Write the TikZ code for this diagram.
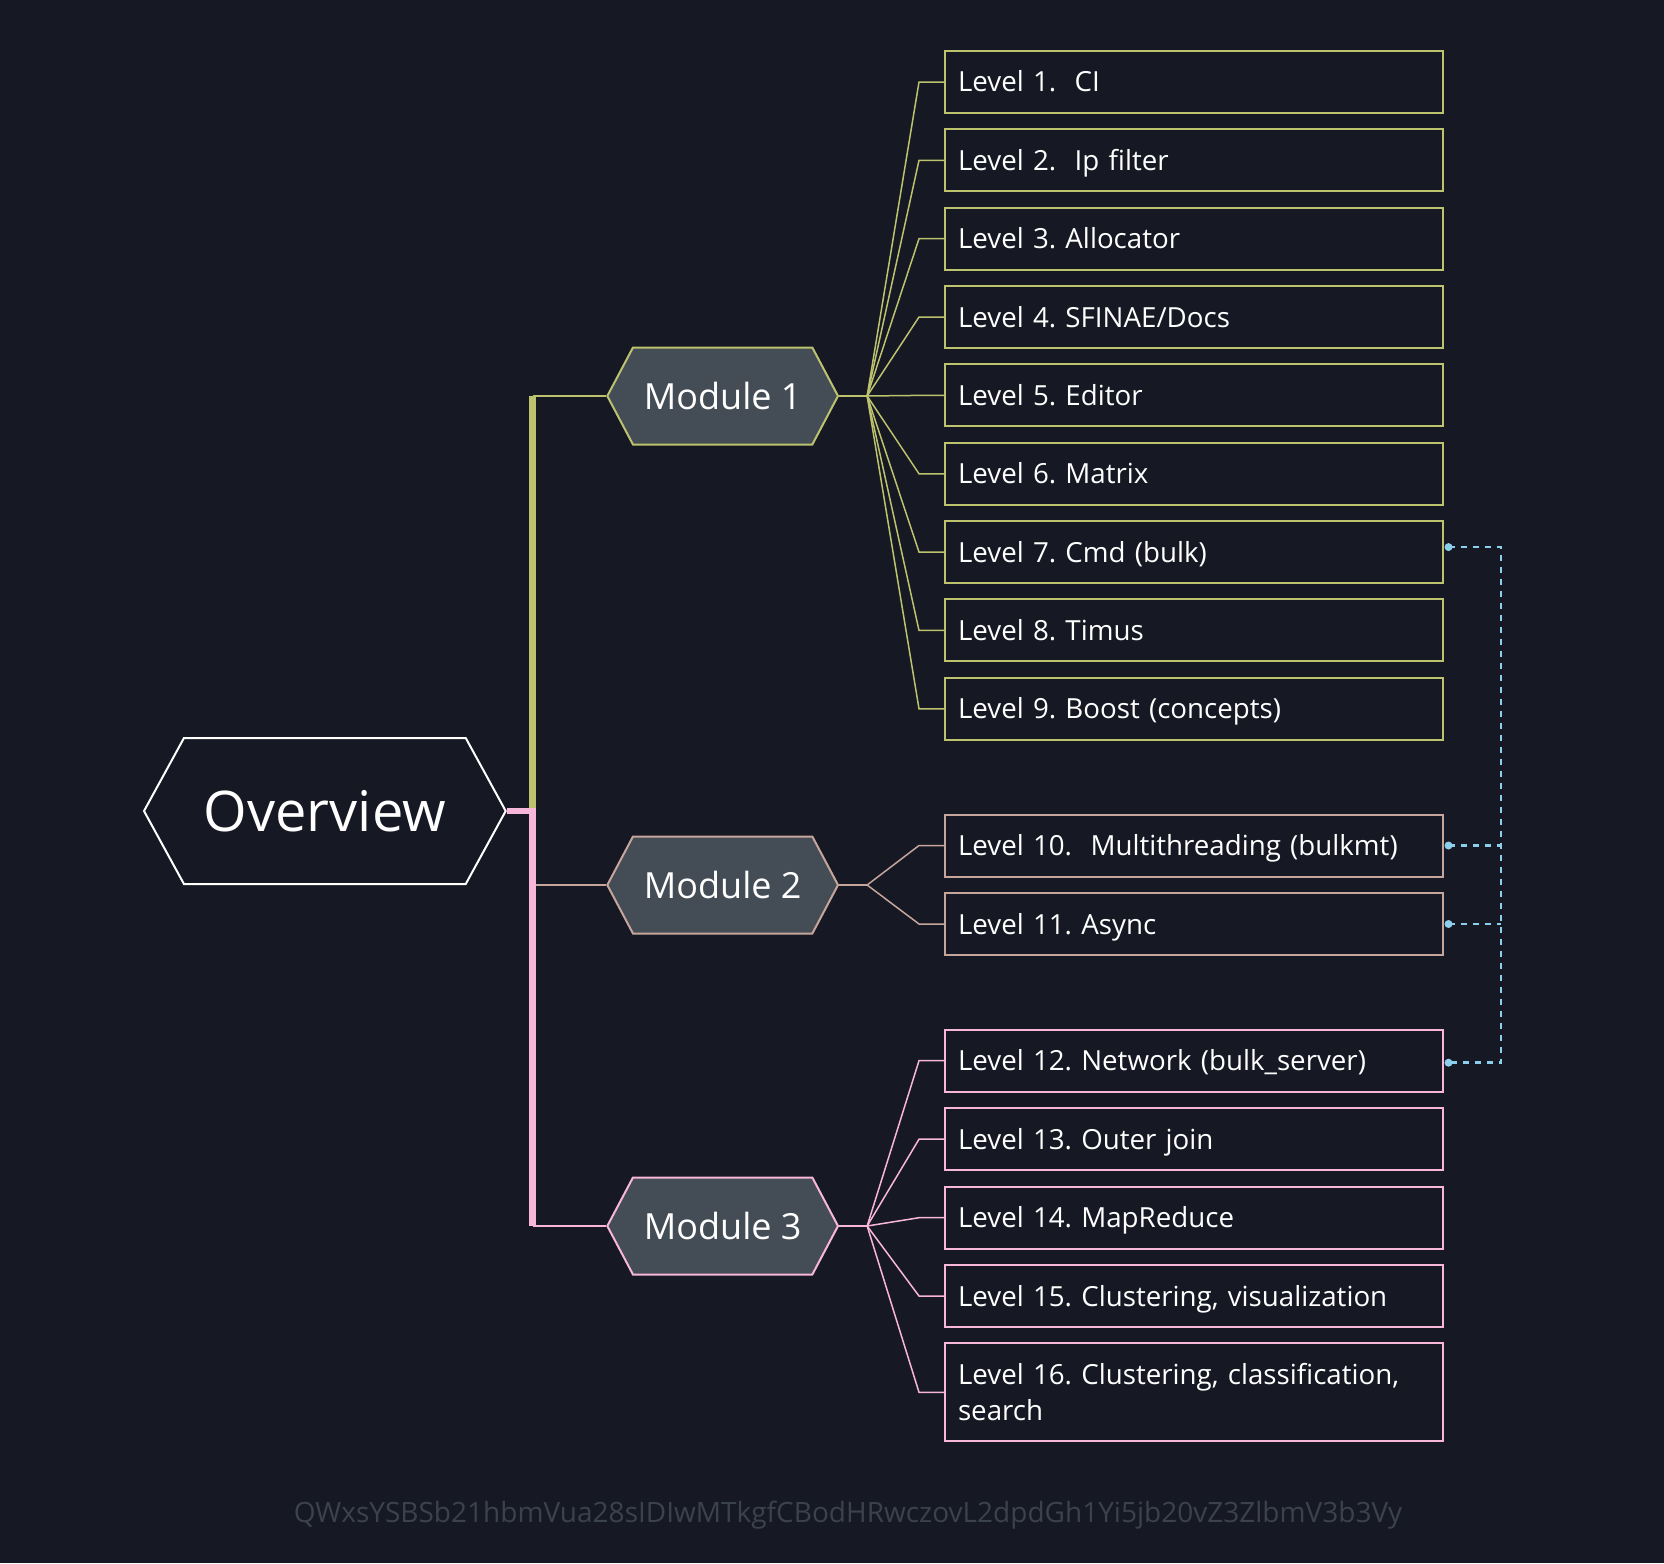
\documentclass[tikz,border=0pt]{standalone}
\usepackage{fontspec}
\setmainfont{Open Sans}
\usetikzlibrary{shapes.symbols,calc}

\definecolor{bgdark}{HTML}{161823}
\definecolor{modfill}{HTML}{444C56}
\definecolor{grn}{HTML}{BCC26E}
\definecolor{brw}{HTML}{C6A69C}
\definecolor{pnk}{HTML}{F7B6DA}
\definecolor{relblue}{HTML}{8CCFEC}
\definecolor{wmgray}{HTML}{3C424D}

\tikzset{every picture/.style={line width=0.75pt}}
\tikzset{
  hexmod/.style={signal, signal to=west and east, signal pointer angle=124.2,
    minimum width=230.7, minimum height=97, inner sep=0pt, fill=modfill,
    line width=2, text=white, font=\fontsize{36}{42}\selectfont},
  hexbig/.style={signal, signal to=west and east, signal pointer angle=122.6,
    minimum width=361.7, minimum height=146, inner sep=0pt, fill=bgdark,
    draw=white, line width=2, text=white, font=\fontsize{56}{64}\selectfont},
  levelbox/.style={draw, line width=2, fill=bgdark, anchor=west,
    minimum height=62, text width=472, inner xsep=13, inner ysep=0pt,
    align=left, text height=20, text depth=0pt, text=white,
    font=\fontsize{27.7}{36}\selectfont},
  fanline/.style={line width=1.5},
  stubline/.style={line width=2},
  busline/.style={line width=6.5},
  relline/.style={relblue, line width=2.5, dash pattern=on 6pt off 6pt},
}

\begin{document}
\frenchspacing
\begin{tikzpicture}[x=1pt,y=1pt,yscale=-1,xscale=1]
%set diagram left start at 0, and has height of 1563
\path[fill=bgdark] (0,0) rectangle (1664,1563);

% Hexagons
\node[hexbig] (ov) at (324.85,811) {Overview};
\node[hexmod, draw=grn] (m1) at (722.65,396) {Module 1};
\node[hexmod, draw=brw] (m2) at (722.65,885) {Module 2};
\node[hexmod, draw=pnk] (m3) at (722.65,1226) {Module 3};

% Text Node
\node[levelbox, draw=grn] (l1) at (944,82) {Level 1.\ \ CI};
% Text Node
\node[levelbox, draw=grn] (l2) at (944,160.35) {Level 2.\ \ Ip filter};
% Text Node
\node[levelbox, draw=grn] (l3) at (944,238.7) {Level 3. Allocator};
% Text Node
\node[levelbox, draw=grn] (l4) at (944,317.05) {Level 4. SFINAE/Docs};
% Text Node
\node[levelbox, draw=grn] (l5) at (944,395.4) {Level 5. Editor};
% Text Node
\node[levelbox, draw=grn] (l6) at (944,473.75) {Level 6. Matrix};
% Text Node
\node[levelbox, draw=grn] (l7) at (944,552.1) {Level 7. Cmd (bulk)};
% Text Node
\node[levelbox, draw=grn] (l8) at (944,630.45) {Level 8. Timus};
% Text Node
\node[levelbox, draw=grn] (l9) at (944,708.8) {Level 9. Boost (concepts)};
% Text Node
\node[levelbox, draw=brw] (l10) at (944,845.5) {Level 10.\ \ Multithreading (bulkmt)};
% Text Node
\node[levelbox, draw=brw] (l11) at (944,924) {Level 11. Async};
% Text Node
\node[levelbox, draw=pnk] (l12) at (944,1060.7) {Level 12. Network (bulk\_server)};
% Text Node
\node[levelbox, draw=pnk] (l13) at (944,1139.2) {Level 13. Outer join};
% Text Node
\node[levelbox, draw=pnk] (l14) at (944,1217.7) {Level 14. MapReduce};
% Text Node
\node[levelbox, draw=pnk] (l15) at (944,1296) {Level 15. Clustering, visualization};
% Text Node
\node[levelbox, draw=pnk, minimum height=98, text height=20, text depth=36] (l16) at (944,1392.3) {Level 16. Clustering, classification,\\search};

% Text Node
\node[anchor=base, text=wmgray, font=\fontsize{28}{32}\selectfont] (wm) at (848,1522) {QWxsYSBSb21hbmVua28sIDIwMTkgfCBodHRwczovL2dpdGh1Yi5jb20vZ3ZlbmV3b3Vy};

% Fan points
\coordinate (bus) at (532.7,811);
\coordinate (f1) at ($(m1.east)+(28,0)$);
\coordinate (f2) at ($(m2.east)+(28,0)$);
\coordinate (f3) at ($(m3.east)+(28,0)$);

%Straight Lines
\draw[brw, stubline] (bus |- m2.west) -- (m2.west);
\draw[grn, stubline] (bus |- m1.west) -- (m1.west);
\draw[pnk, stubline] (bus |- m3.west) -- (m3.west);
\draw[grn, busline] (bus) -- (bus |- m1.west);
\draw[pnk, busline] (ov.east) -- (bus) -- (bus |- m3.west);

%Straight Lines
\draw[grn, stubline] (m1.east) -- (f1);
\foreach \i in {1,...,9}
  \draw[grn, fanline] (f1) -- ([xshift=-25]l\i.west) -- (l\i.west);
\draw[brw, stubline] (m2.east) -- (f2);
\foreach \i in {10,11}
  \draw[brw, fanline] (f2) -- ([xshift=-25]l\i.west) -- (l\i.west);
\draw[pnk, stubline] (m3.east) -- (f3);
\foreach \i in {12,...,16}
  \draw[pnk, fanline] (f3) -- ([xshift=-25]l\i.west) -- (l\i.west);

% Dashed relations
\coordinate (d7) at ($(l7.east)+(4.5,-5)$);
\coordinate (d10) at ($(l10.east)+(4.5,0)$);
\coordinate (d11) at ($(l11.east)+(4.5,0)$);
\coordinate (d12) at ($(l12.east)+(4.5,2)$);
\coordinate (rel) at ($(d7)+(52.5,0)$);
\draw[relline] (d7) -- (rel) -- (rel |- d12) -- (d12);
\draw[relline] (d10) -- (rel |- d10);
\draw[relline] (d11) -- (rel |- d11);
\foreach \d in {d7,d10,d11,d12}
  \fill[relblue] (\d) circle (4);

\end{tikzpicture}
\end{document}
